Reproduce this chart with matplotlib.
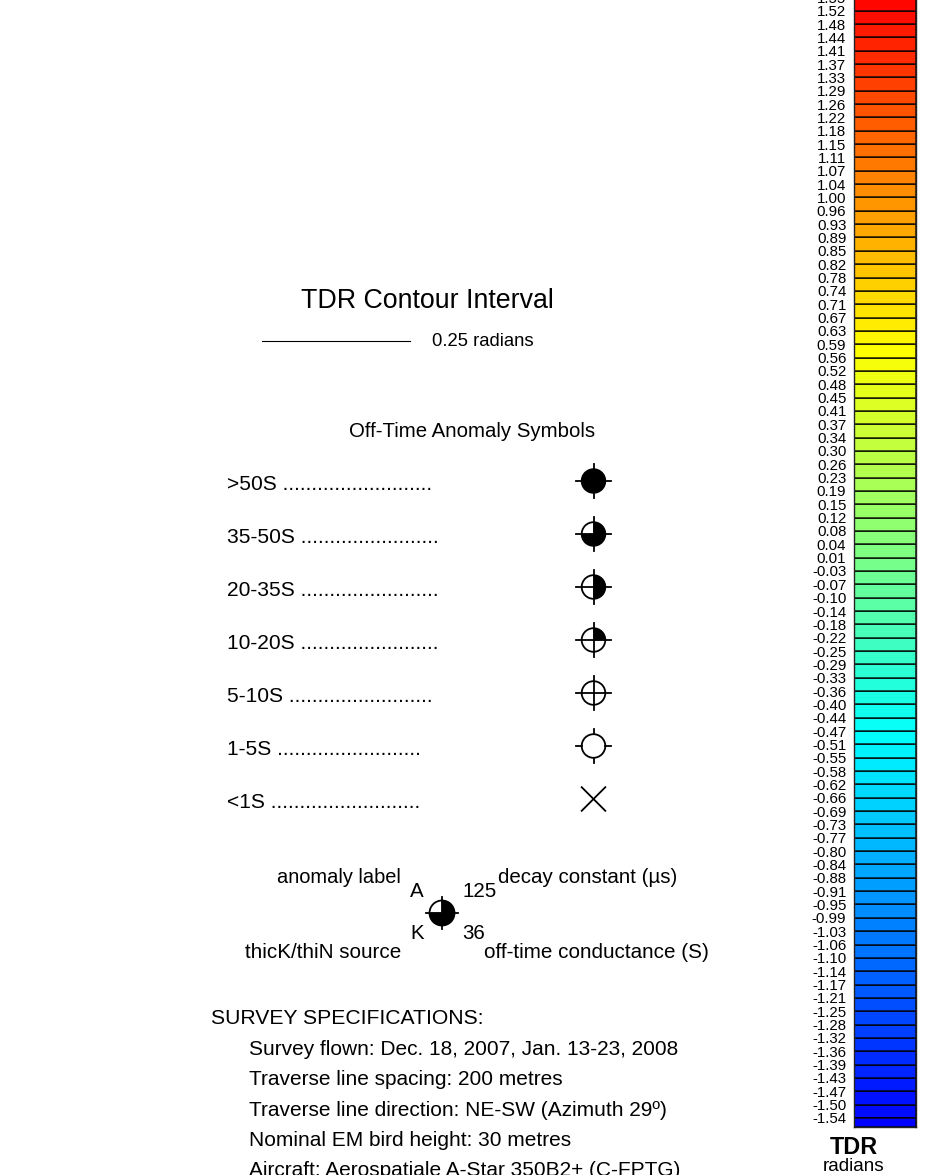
import numpy as np
import matplotlib
matplotlib.use("Agg")
import matplotlib.pyplot as plt
from matplotlib.colors import LinearSegmentedColormap
from matplotlib.patches import Circle, Wedge

plt.rcParams['font.family'] = ['Liberation Sans', 'DejaVu Sans']

# =====================================================
# DATA
# =====================================================

# colour bar class breaks (radians), top to bottom
TDR_LEVELS = [
    1.55, 1.52, 1.48, 1.44, 1.41, 1.37, 1.33, 1.29, 1.26, 1.22, 1.18, 1.15,
    1.11, 1.07, 1.04, 1.00, 0.96, 0.93, 0.89, 0.85, 0.82, 0.78, 0.74, 0.71,
    0.67, 0.63, 0.59, 0.56, 0.52, 0.48, 0.45, 0.41, 0.37, 0.34, 0.30, 0.26,
    0.23, 0.19, 0.15, 0.12, 0.08, 0.04, 0.01, -0.03, -0.07, -0.10, -0.14,
    -0.18, -0.22, -0.25, -0.29, -0.33, -0.36, -0.40, -0.44, -0.47, -0.51,
    -0.55, -0.58, -0.62, -0.66, -0.69, -0.73, -0.77, -0.80, -0.84, -0.88,
    -0.91, -0.95, -0.99, -1.03, -1.06, -1.10, -1.14, -1.17, -1.21, -1.25,
    -1.28, -1.32, -1.36, -1.39, -1.43, -1.47, -1.50, -1.54,
]
TDR_BELOW = -1.57   # colour of the part-box under the last break
TDR_ABOVE = 1.59    # colour of the box over the first break

# colour ramp anchors (value, colour)
RAMP_VALUES = [-1.57, -0.48, 0.03, 0.58, 1.56]
RAMP_COLORS = ["#0000ff", "#00ffff", "#80ff80", "#ffff00", "#ff0000"]

CONTOUR_TITLE = "TDR Contour Interval"
CONTOUR_LABEL = "0.25 radians"

SYMBOL_CLASSES = [">50S", "35-50S", "20-35S", "10-20S", "5-10S", "1-5S", "<1S"]
SYMBOL_DOTS = [26, 24, 24, 24, 25, 25, 26]
SYMBOL_QUARTERS = [4, 3, 2, 1, 0, 0, None]        # filled quarters, None = X
SYMBOL_INNER_CROSS = [True, True, True, True, True, False, False]

EXAMPLE_LABEL = "A"
EXAMPLE_DECAY = "125"
EXAMPLE_SOURCE = "K"
EXAMPLE_COND = "36"

SURVEY_HEADER = "SURVEY SPECIFICATIONS:"
SURVEY_SPECS = [
    "Survey flown: Dec. 18, 2007, Jan. 13-23, 2008",
    "Traverse line spacing: 200 metres",
    "Traverse line direction: NE-SW (Azimuth 29º)",
    "Nominal EM bird height: 30 metres",
    "Aircraft: Aerospatiale A-Star 350B2+ (C-FPTG)",
]

# =====================================================
# FIGURE
# =====================================================

W, H = 944, 1175
fig = plt.figure(figsize=(W / 100, H / 100), dpi=100)
fig.patch.set_facecolor("white")

# page axes in pixel units (y downwards)
ax = fig.add_axes([0, 0, 1, 1])
ax.set_xlim(0, W)
ax.set_ylim(H, 0)
ax.axis("off")

BODY = 15.0

# ---- contour interval ----
ax.text(427, 308, CONTOUR_TITLE, ha="center", va="baseline", fontsize=19.3)
ax.plot([262, 410], [341, 341], color="black", lw=0.8)
ax.text(432, 346, CONTOUR_LABEL, ha="left", va="baseline", fontsize=13.3)

# ---- anomaly symbols ----
ax.text(472, 437, "Off-Time Anomaly Symbols", ha="center", va="baseline", fontsize=14.7)


def draw_symbol(cx, cy, quarters, inner=True, r=11.8, tick=5.5, lw=1.3):
    if quarters is None:
        ax.plot([cx - r, cx + r], [cy - r, cy + r], color="black", lw=lw)
        ax.plot([cx - r, cx + r], [cy + r, cy - r], color="black", lw=lw)
        return
    # screen quarters, in fill order: top-right, bottom-right, bottom-left, top-left
    screen = [(0, 90), (270, 360), (180, 270), (90, 180)]
    for a, b in screen[:quarters]:
        ax.add_patch(Wedge((cx, cy), r, -b, -a, facecolor="black",
                           edgecolor="black", lw=0.3))
    ax.add_patch(Circle((cx, cy), r, fill=False, edgecolor="black", lw=lw))
    ext = r + tick
    if inner:
        ax.plot([cx - ext, cx + ext], [cy, cy], color="black", lw=lw)
        ax.plot([cx, cx], [cy - ext, cy + ext], color="black", lw=lw)
    else:
        for s in (-1, 1):
            ax.plot([cx + s * r, cx + s * ext], [cy, cy], color="black", lw=lw)
            ax.plot([cx, cx], [cy + s * r, cy + s * ext], color="black", lw=lw)


sym_y = 481
for cls, dots, q, inner in zip(SYMBOL_CLASSES, SYMBOL_DOTS, SYMBOL_QUARTERS, SYMBOL_INNER_CROSS):
    ax.text(227, sym_y + 9, cls + " " + "." * dots, ha="left", va="baseline", fontsize=15.1)
    draw_symbol(593.5, sym_y, q, inner)
    sym_y += 53

# ---- example anomaly ----
ax.text(401, 883, "anomaly label", ha="right", va="baseline", fontsize=14.4)
ax.text(410, 897, EXAMPLE_LABEL, ha="left", va="baseline", fontsize=14.8)
ax.text(462, 897, EXAMPLE_DECAY, ha="left", va="baseline", fontsize=14.8)
ax.text(498, 883, "decay constant (µs)", ha="left", va="baseline", fontsize=14.8)
draw_symbol(442, 913, 3, True, r=12.5, tick=3.5)
ax.text(410, 939, EXAMPLE_SOURCE, ha="left", va="baseline", fontsize=14.8)
ax.text(462, 939, EXAMPLE_COND, ha="left", va="baseline", fontsize=14.8)
ax.text(401, 958, "thicK/thiN source", ha="right", va="baseline", fontsize=14.9)
ax.text(484, 958, "off-time conductance (S)", ha="left", va="baseline", fontsize=14.9)

# ---- survey specs ----
ax.text(211, 1024, SURVEY_HEADER, ha="left", va="baseline", fontsize=15.2)
for i, line in enumerate(SURVEY_SPECS):
    ax.text(249, 1055 + i * 30.3, line, ha="left", va="baseline", fontsize=BODY)

# =====================================================
# COLOUR BAR  (class boxes stacked by index, breaks labelled)
# =====================================================

n = len(TDR_LEVELS)
STEP_PX = 13.34
BELOW_FRAC = 0.68          # part-box under the lowest break
ABOVE_FRAC = 2.5           # runs off the top of the page
bar_bottom_px = 1127
cax = fig.add_axes([854 / W, (H - bar_bottom_px) / H, 62 / W,
                    (n - 1 + BELOW_FRAC + ABOVE_FRAC) * STEP_PX / H])

lo, hi = RAMP_VALUES[0], RAMP_VALUES[-1]
cmap = LinearSegmentedColormap.from_list(
    "tdr", [((v - lo) / (hi - lo), c) for v, c in zip(RAMP_VALUES, RAMP_COLORS)])


def col(v):
    return cmap(np.clip((v - lo) / (hi - lo), 0, 1))


levels_up = TDR_LEVELS[::-1]               # bottom to top
pos = np.arange(n)                          # break k sits at y = k
box_vals = [(levels_up[k] + levels_up[k + 1]) / 2 for k in range(n - 1)]

edge = (0, 0, 0, 0.8)
cax.bar(0, 1, bottom=pos[:-1], width=1, align="edge",
        color=[col(v) for v in box_vals], edgecolor=edge, linewidth=1.2)
cax.bar(0, BELOW_FRAC, bottom=-BELOW_FRAC, width=1, align="edge",
        color=col(TDR_BELOW), edgecolor=edge, linewidth=1.2)
cax.bar(0, ABOVE_FRAC, bottom=n - 1, width=1, align="edge",
        color=col(TDR_ABOVE), edgecolor=edge, linewidth=1.2)

cax.set_xlim(0, 1)
cax.set_ylim(-BELOW_FRAC, n - 1 + ABOVE_FRAC)
cax.set_xticks([])
cax.set_yticks(pos)
cax.set_yticklabels([f"{v:.2f}" for v in levels_up], fontsize=10.8)
cax.tick_params(axis="y", length=0, pad=5.5)
for sp in cax.spines.values():
    sp.set_linewidth(1.0)
    sp.set_color("#222222")

ax.text(854, 1154, "TDR", ha="center", va="baseline", fontsize=16.8, fontweight="bold")
ax.text(854, 1171, "radians", ha="center", va="baseline", fontsize=13.6)

fig.savefig("out.png", dpi=100)
